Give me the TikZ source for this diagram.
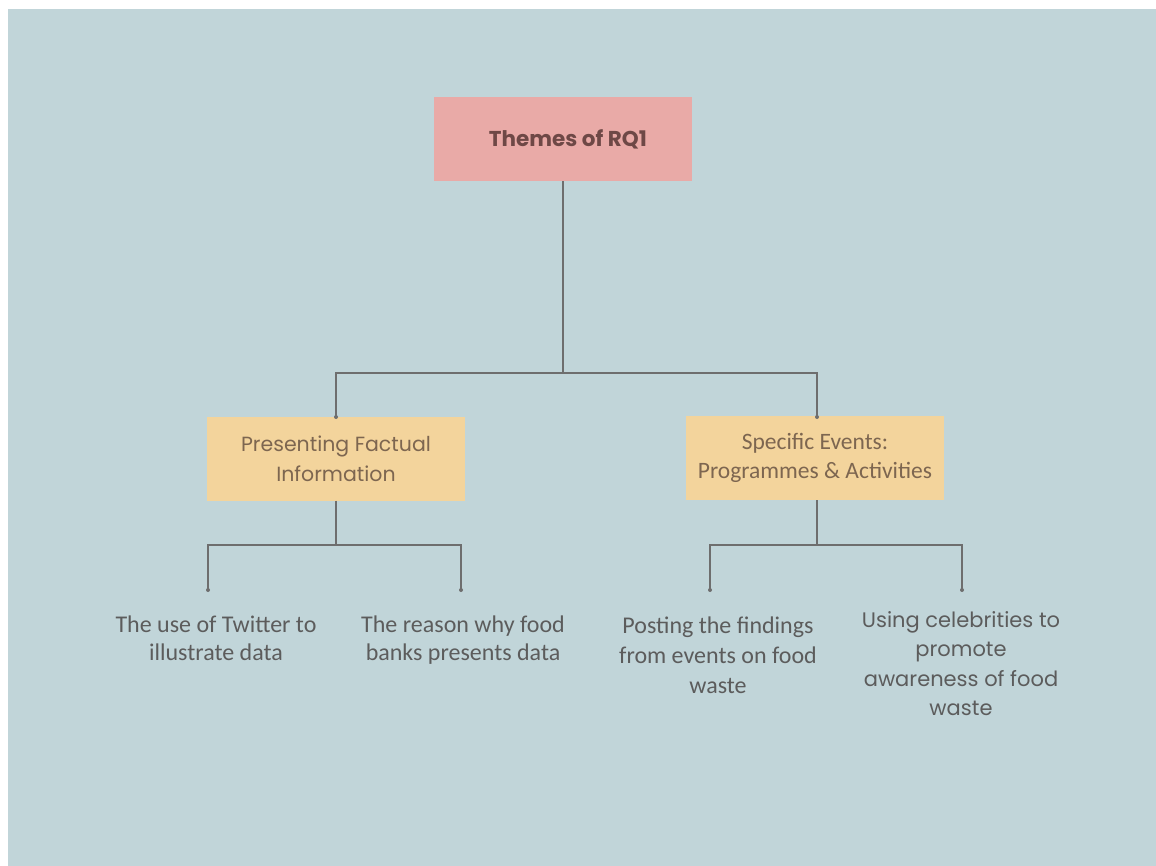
\documentclass[tikz,border=0pt]{standalone}
\usepackage{fontspec}
\newfontfamily\popfont{Poppins}
\newfontfamily\carlfont{Carlito}
\definecolor{bgblue}{HTML}{C1D5D9}
\definecolor{rootpink}{HTML}{E9AAA7}
\definecolor{themeyellow}{HTML}{F3D49C}
\definecolor{linegray}{HTML}{6E6E6E}
\definecolor{roottext}{HTML}{6E4846}
\definecolor{themetext}{HTML}{7D6650}
\definecolor{leaftext}{HTML}{5C5C5C}
\tikzset{
  rootbox/.style={rectangle, fill=rootpink, minimum width=258pt, minimum height=84pt,
    text=roottext, font=\popfont\bfseries\fontsize{21.5}{26}\selectfont, inner sep=0pt},
  themebox/.style={rectangle, fill=themeyellow, minimum width=258pt, minimum height=84pt,
    text=themetext, align=center, inner sep=0pt},
  leaf/.style={text=leaftext, align=center, inner sep=0pt, anchor=north},
  link/.style={draw=linegray, line width=1.3pt},
  enddot/.style={fill=linegray, draw=none}
}
\begin{document}
\begin{tikzpicture}[x=1pt, y=-1pt]
  % canvas
  \useasboundingbox (0,0) rectangle (1156,866);
  \fill[white] (0,0) rectangle (1156,866);
  \fill[bgblue] (8,9) rectangle (1156,866);

  % hierarchy boxes
  \node[rootbox] (root) at (563,139) {\raisebox{-1.5pt}{\hspace*{10pt}Themes of RQ1}};
  \node[themebox, font=\popfont\fontsize{20.5}{30}\selectfont] (pfi) at (336,458.5)
    {Presenting Factual\\Information};
  \node[themebox, font=\carlfont\fontsize{23.5}{28.5}\selectfont] (spe) at (815,458)
    {\raisebox{-3pt}{Specific Events:}\\\raisebox{-3pt}{Programmes \& Activities}};

  % junction and end points
  \coordinate (j0) at (563,373);
  \coordinate (j1) at (336,545);
  \coordinate (j2) at (817,545);
  \coordinate (e11) at (208,590);
  \coordinate (e12) at (461,590);
  \coordinate (e21) at (710,590);
  \coordinate (e22) at (962,590);
  \coordinate (t1) at (336,417);
  \coordinate (t2) at (817,417);

  % leaf texts
  \node[leaf, font=\carlfont\fontsize{24}{28}\selectfont] (l11) at (216,616)
    {The use of Twitter to\\illustrate data};
  \node[leaf, font=\carlfont\fontsize{24}{28}\selectfont] (l12) at (463,616)
    {The reason why food\\banks presents data};
  \node[leaf, font=\carlfont\fontsize{24}{30}\selectfont] (l21) at (718,617)
    {Posting the findings\\from events on food\\waste};
  \node[leaf, font=\popfont\fontsize{21}{29.5}\selectfont] (l22) at (961,611)
    {Using celebrities to\\promote\\awareness of food\\waste};

  % connectors
  \draw[link] (root.south) -- (j0);
  \draw[link] (j0) -| (t1);
  \draw[link] (j0) -| (t2);
  \draw[link] (pfi.south) -- (j1);
  \draw[link] (j1) -| (e11);
  \draw[link] (j1) -| (e12);
  \draw[link] (spe.south -| j2) -- (j2);
  \draw[link] (j2) -| (e21);
  \draw[link] (j2) -| (e22);

  % small end dots
  \foreach \p in {t1,t2,e11,e12,e21,e22}
    \fill[enddot] (\p) circle (2pt);
\end{tikzpicture}
\end{document}
